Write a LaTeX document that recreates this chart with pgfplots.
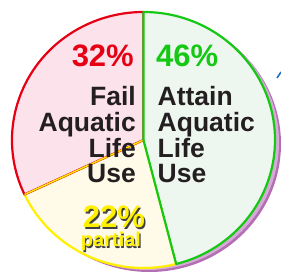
\documentclass[border=0pt]{standalone}
\usepackage{pgfplots}
\pgfplotsset{compat=1.18}
\usepackage{fontspec}
\setmainfont{Liberation Sans}
\definecolor{redB}{RGB}{230,0,20}
\definecolor{redF}{RGB}{252,226,234}
\definecolor{grnB}{RGB}{20,200,20}
\definecolor{grnF}{RGB}{238,246,240}
\definecolor{yelB}{RGB}{255,240,0}
\definecolor{yelF}{RGB}{255,251,232}
\definecolor{shadA}{RGB}{214,170,214}
\definecolor{shadB}{RGB}{180,110,180}
\definecolor{lab}{RGB}{35,31,32}
\definecolor{blu}{RGB}{30,110,200}
% slice values (percent): Attain 46, partial 22, Fail 32
\def\vA{46}\def\vP{22}\def\vF{32}
\tikzset{lbl/.style={inner sep=0,text=lab,font=\fontsize{26.5}{26.5}\selectfont\bfseries}}
\begin{document}
\begin{tikzpicture}
\pgfmathsetmacro{\aS}{90-\vA*3.6-\vP*3.6}
\pgfmathsetmacro{\bS}{90-\vA*3.6}
\begin{axis}[x=1pt,y=1pt,xmin=0,xmax=281,ymin=0,ymax=278,hide axis,clip=false,
  scale only axis, anchor=south west, at={(0,0)}]
% shadow
\fill[shadB] (axis cs:149.5,134) ellipse [x radius=131.5, y radius=128];
\fill[shadA] (axis cs:147.5,136) ellipse [x radius=131.5, y radius=128];
% yellow slice (partial)
\filldraw[fill=yelF,draw=yelB,line width=2.2pt,line join=round]
  (axis cs:143.5,138) -- ++({131.5*cos(\bS)},{128*sin(\bS)}) arc[start angle=\bS, end angle=\aS, x radius=131.5, y radius=128] -- cycle;
% red slice (Fail)
\filldraw[fill=redF,draw=redB,line width=2.2pt,line join=round]
  (axis cs:143.5,138) -- ++({131.5*cos(\aS)},{128*sin(\aS)}) arc[start angle=\aS, end angle=-270, x radius=131.5, y radius=128] -- cycle;
\draw[yelB,line width=1.4pt] (axis cs:143.5,138) -- ++({131.5*cos(\aS)},{128*sin(\aS)});
% green slice (Attain)
\filldraw[fill=grnF,draw=grnB,line width=2.2pt,line join=round]
  (axis cs:143.5,138) -- (axis cs:143.5,266) arc[start angle=90, end angle=\bS, x radius=131.5, y radius=128] -- cycle;
% texts
\node[anchor=base east,inner sep=0,text=redB,font=\fontsize{31}{31}\selectfont\bfseries] at (axis cs:134,211) {\vF\%};
\node[anchor=base west,inner sep=0,text=grnB,font=\fontsize{31}{31}\selectfont\bfseries] at (axis cs:156,211) {\vA\%};
\node[anchor=base east,lbl] at (axis cs:136,172) {Fail};
\node[anchor=base east,lbl] at (axis cs:136,146) {Aquatic};
\node[anchor=base east,lbl] at (axis cs:136,120) {Life};
\node[anchor=base east,lbl] at (axis cs:136,95) {Use};
\node[anchor=base west,lbl] at (axis cs:157.5,172) {Attain};
\node[anchor=base west,lbl] at (axis cs:157.5,146) {Aquatic};
\node[anchor=base west,lbl] at (axis cs:157.5,120) {Life};
\node[anchor=base west,lbl] at (axis cs:157.5,95) {Use};
\node[anchor=base,inner sep=0,text=black!75,font=\fontsize{31}{31}\selectfont\bfseries] at (axis cs:115.3,48.7) {\vP\%};
\node[anchor=base,inner sep=0,text=yelB,font=\fontsize{31}{31}\selectfont\bfseries] at (axis cs:114,50) {\vP\%};
\node[anchor=base,inner sep=0,text=black!75,font=\fontsize{20}{20}\selectfont\bfseries] at (axis cs:112.2,29.8) {partial};
\node[anchor=base,inner sep=0,text=yelB,font=\fontsize{20}{20}\selectfont\bfseries] at (axis cs:111,31) {partial};
\draw[blu,line width=1.6pt] (axis cs:277,200) -- (axis cs:281,206);
\end{axis}
\pgfresetboundingbox
\path (0,0) rectangle (281pt,278pt);
\end{tikzpicture}
\end{document}
